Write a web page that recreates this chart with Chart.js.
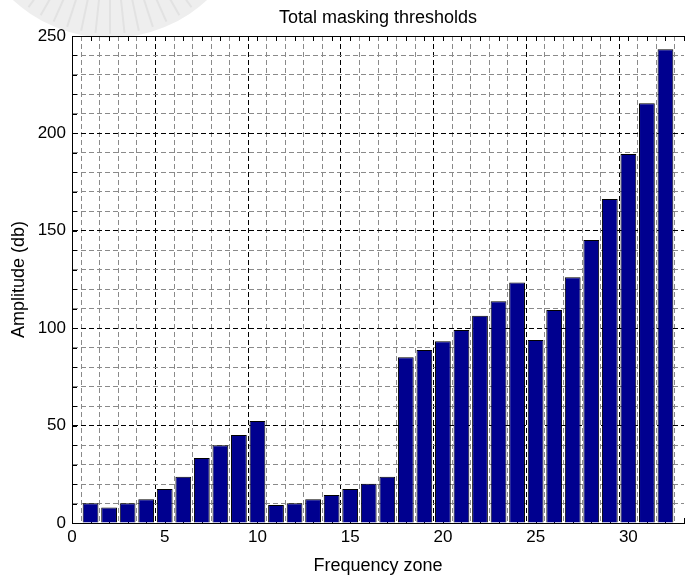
<!DOCTYPE html>
<html>
<head>
<meta charset="utf-8">
<script src="https://cdn.jsdelivr.net/npm/chart.js@4.4.1/dist/chart.umd.min.js"></script>
<style>
  html, body { margin: 0; padding: 0; background: #ffffff; }
  #wrap { width: 688px; height: 575px; position: relative; }
</style>
</head>
<body>
<div id="wrap"><canvas id="c" width="688" height="575"></canvas></div>
<script>
// ---- data ----
const zones = [1,2,3,4,5,6,7,8,9,10,11,12,13,14,15,16,17,18,19,20,21,22,23,24,25,26,27,28,29,30,31,32];
const amplitudes = [10.1,7.9,10.1,12.2,17.5,23.8,33.4,39.9,45.2,52.4,9.2,10.1,12.2,14.4,17.5,20.2,23.8,85.1,88.8,93.3,99.1,106.4,113.8,123.4,93.9,109.3,126.1,145.3,166.3,189.4,215.5,243.2];
const xTickLabels = [0,5,10,15,20,25,30];
const yTickLabels = [0,50,100,150,200,250];
const titleText = 'Total masking thresholds';
const xTitle = 'Frequency zone';
const yTitle = 'Amplitude (db)';

const FONT = 'Liberation Sans, Arial, Helvetica, sans-serif';

const watermark = {
  id: 'watermark',
  beforeDraw(chart) {
    const ctx = chart.ctx;
    ctx.save();
    const cx = 110, cy = -105, R = 143;
    ctx.beginPath();
    ctx.arc(cx, cy, R, 0, Math.PI * 2);
    ctx.fillStyle = '#eeeeee';
    ctx.fill();
    ctx.strokeStyle = '#e2e2e2';
    ctx.lineWidth = 2;
    for (let a = 0; a < 360; a += 6) {
      const r = a * Math.PI / 180;
      ctx.beginPath();
      ctx.moveTo(cx + Math.cos(r) * R * 0.55, cy + Math.sin(r) * R * 0.55);
      ctx.lineTo(cx + Math.cos(r) * R * 0.97, cy + Math.sin(r) * R * 0.97);
      ctx.stroke();
    }
    ctx.restore();
  }
};

const frameTicks = {
  id: 'frameTicks',
  beforeDatasetsDraw(chart) {
    const {ctx, chartArea: a, scales: {x, y}} = chart;
    ctx.save();
    ctx.strokeStyle = '#000';
    ctx.lineWidth = 1;
    ctx.beginPath();
    x.ticks.forEach(t => {
      const px = Math.round(x.getPixelForValue(t.value)) + 0.5;
      ctx.moveTo(px, a.bottom); ctx.lineTo(px, a.bottom - 5);
      ctx.moveTo(px, a.top); ctx.lineTo(px, a.top + 5);
    });
    y.ticks.forEach(t => {
      const py = Math.round(y.getPixelForValue(t.value)) + 0.5;
      ctx.moveTo(a.left, py); ctx.lineTo(a.left + 5, py);
    });
    ctx.stroke();
    ctx.restore();
  },
  afterDraw(chart) {
    const {ctx, chartArea: a} = chart;
    ctx.save();
    ctx.strokeStyle = '#000';
    ctx.lineWidth = 1;
    ctx.beginPath();
    ctx.moveTo(Math.round(a.left) + 0.5, Math.round(a.bottom) + 0.5);
    ctx.lineTo(Math.round(a.left) + 0.5, Math.round(a.top) + 0.5);
    ctx.lineTo(a.right, Math.round(a.top) + 0.5);
    ctx.stroke();
    ctx.restore();
  }
};

new Chart(document.getElementById('c'), {
  type: 'bar',
  data: {
    datasets: [{
      data: zones.map((z, i) => ({x: z, y: amplitudes[i]})),
      backgroundColor: '#00008f',
      borderColor: '#000000',
      borderWidth: 1,
      barPercentage: 0.85,
      categoryPercentage: 1.0
    }]
  },
  options: {
    responsive: false,
    animation: false,
    devicePixelRatio: 1,
    layout: { padding: 0 },
    plugins: {
      legend: { display: false },
      tooltip: { enabled: false },
      title: { display: false }
    },
    scales: {
      x: {
        type: 'linear',
        min: 0, max: 33,
        offset: false,
        afterFit(s) { s.height = 52; },
        ticks: {
          stepSize: 1,
          autoSkip: false,
          maxRotation: 0,
          padding: 4,
          color: '#000',
          font: { family: FONT, size: 17 },
          callback: v => xTickLabels.includes(v) ? String(v) : ''
        },
        grid: {
          drawTicks: false,
          color: c => (c.tick && c.tick.value % 5 === 0) ? '#000000' : '#8a8a8a',
          lineWidth: 1
        },
        border: { display: true, color: '#000', width: 1, dash: [5, 3] },
        title: {
          display: true,
          text: xTitle,
          color: '#000',
          font: { family: FONT, size: 18, lineHeight: 1.0 },
          padding: { top: 0, bottom: 0 }
        }
      },
      xTop: {
        type: 'linear',
        position: 'top',
        min: 0, max: 33,
        offset: false,
        afterFit(s) { s.height = 36; },
        ticks: { display: false },
        grid: { display: false, drawTicks: false },
        border: { display: false },
        title: {
          display: true,
          text: titleText,
          color: '#000',
          font: { family: FONT, size: 18, lineHeight: 1.2 },
          padding: { top: 7, bottom: 0 }
        }
      },
      y: {
        min: 0, max: 250,
        afterFit(s) { s.width = 72; },
        ticks: {
          stepSize: 10,
          autoSkip: false,
          padding: 6,
          color: '#000',
          font: { family: FONT, size: 17 },
          callback: v => yTickLabels.includes(v) ? String(v) : ''
        },
        grid: {
          drawTicks: false,
          color: c => (c.tick && c.tick.value % 50 === 0) ? '#000000' : '#8a8a8a',
          lineWidth: 1
        },
        border: { display: true, color: '#000', width: 1, dash: [5, 3] },
        title: {
          display: true,
          text: yTitle,
          color: '#000',
          font: { family: FONT, size: 18, lineHeight: 1.2 },
          padding: { top: 8, bottom: 0 }
        }
      }
    }
  },
  plugins: [watermark, frameTicks]
});
</script>
</body>
</html>
